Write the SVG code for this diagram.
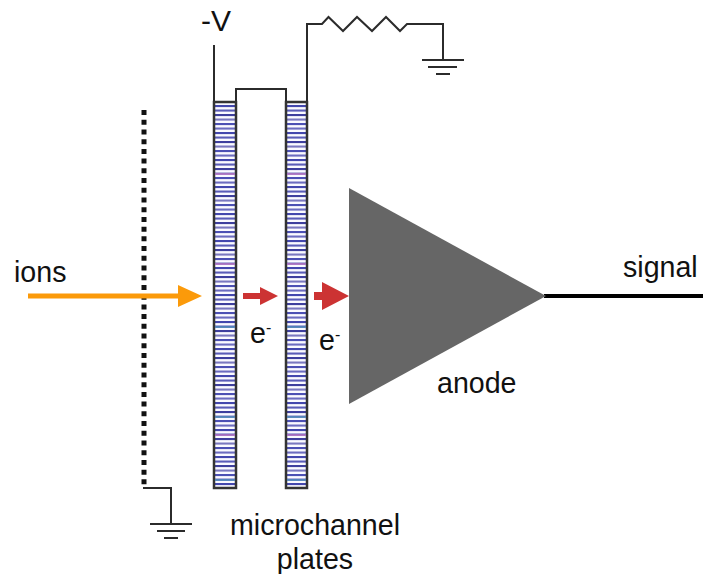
<svg xmlns="http://www.w3.org/2000/svg" width="703" height="574" viewBox="0 0 703 574">
<style>
.w{fill:none;stroke:#2b2b2b;stroke-width:2}
.t{font-family:"Liberation Sans",Arial,sans-serif;font-size:28.600px;fill:#111}
.p{fill:url(#st);stroke:#333;stroke-width:2.500}
.o{fill:#fb9a0a}
.r{fill:#cc3333}
.v{fill:#b070c0;opacity:.8}
.c{fill:#4f86b8;opacity:.85}
</style>
<defs>
<pattern id="st" patternUnits="userSpaceOnUse" x="0" y="104" width="24" height="27">
<rect width="24" height="27" fill="#fafaff"/>
<rect y="1" width="24" height="2.100" fill="#4347ae"/>
<rect y="5.500" width="24" height="2.100" fill="#5a5cb8"/>
<rect y="10" width="24" height="2.100" fill="#3e3f9e"/>
<rect y="14.500" width="24" height="2.100" fill="#7a78c0"/>
<rect y="19" width="24" height="2.100" fill="#4c50b4"/>
<rect y="23.500" width="24" height="2.100" fill="#6c6cc0"/>
</pattern>
</defs>
<rect width="703" height="574" fill="#fff"/>
<g id="connectors">
<path class="w" d="M214 45V102"/>
<path class="w" d="M236 102V89H286V102"/>
<path class="w" d="M307 102V24H322L328.500 17L343 31L357 17L372 31L386 17L400 31L407 24H443V60"/>
<path class="w" d="M422 60H464M428 67H457M436 74H450"/>
<path d="M144 110V484.400" fill="none" stroke="#111" stroke-width="5" stroke-dasharray="5 4.720"/>
<path class="w" d="M143 488H171V524"/>
<path class="w" d="M150 524H192M157 531H185M164 538H178"/>
<path d="M544 296H703" fill="none" stroke="#000" stroke-width="4"/>
</g>
<g id="plate-1">
<rect class="p" x="214" y="102" width="22" height="386"/>
<rect class="v" x="215" y="173" width="20" height="2"/><rect class="v" x="215" y="263" width="20" height="2"/><rect class="v" x="215" y="434" width="20" height="2"/>
<rect class="c" x="215" y="326" width="20" height="2"/><rect class="c" x="215" y="416" width="20" height="2"/><rect class="c" x="215" y="479" width="20" height="2"/>
</g>
<g id="plate-2">
<rect class="p" x="286" y="102" width="21" height="386"/>
<rect class="v" x="287" y="173" width="19" height="2"/><rect class="v" x="287" y="263" width="19" height="2"/><rect class="v" x="287" y="434" width="19" height="2"/>
<rect class="c" x="287" y="326" width="19" height="2"/><rect class="c" x="287" y="416" width="19" height="2"/><rect class="c" x="287" y="479" width="19" height="2"/>
</g>
<g id="anode">
<polygon points="349,188 349,404 546,296" fill="#666"/>
<text class="t" x="437" y="393">anode</text>
</g>
<g id="ions-arrow">
<polygon class="o" points="28,293.500 178,293.500 178,285 202,296 178,307 178,298.500 28,298.500"/>
<text class="t" x="14" y="282">ions</text>
</g>
<g id="electron-arrow-1">
<polygon class="r" points="243,293 260,293 260,287 278,296 260,305 260,299 243,299"/>
<text class="t" x="250" y="343">e<tspan style="font-size:16px" dy="-10">-</tspan></text>
</g>
<g id="electron-arrow-2">
<polygon class="r" points="314,292 322,292 322,282 349,296 322,310 322,300 314,300"/>
<text class="t" x="319" y="350">e<tspan style="font-size:16px" dy="-10">-</tspan></text>
</g>
<g id="labels">
<text class="t" x="201" y="31" style="font-size:30px">-V</text>
<text class="t" x="623" y="277">signal</text>
<text class="t" x="315" y="535" text-anchor="middle">microchannel</text>
<text class="t" x="315" y="569" text-anchor="middle">plates</text>
</g>
</svg>
